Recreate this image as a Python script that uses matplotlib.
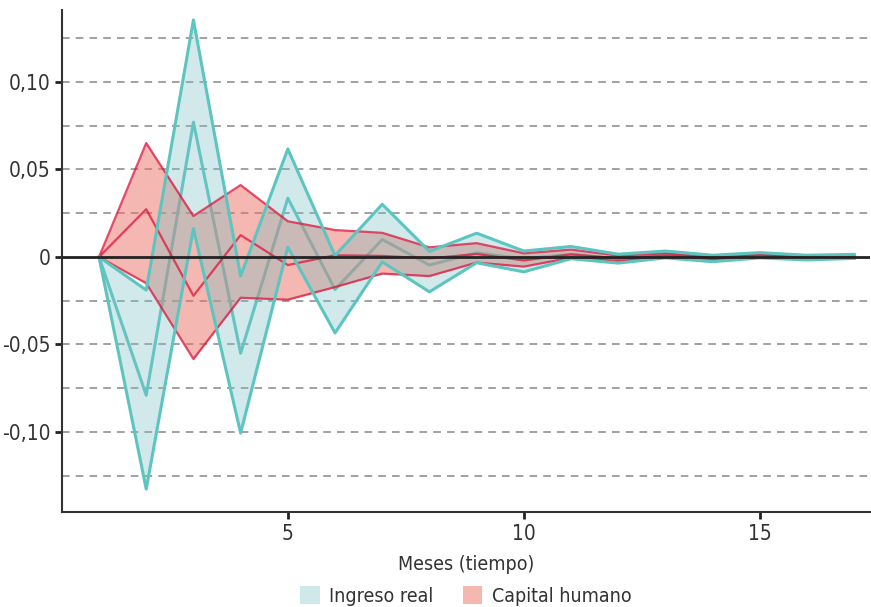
import numpy as np
import matplotlib
matplotlib.use("Agg")
import matplotlib.pyplot as plt
from matplotlib.patches import Patch

plt.rcParams['font.family'] = ['DejaVu Sans']
plt.rcParams['font.stretch'] = 'condensed'

# meses del horizonte de respuesta
meses = list(range(1, 18))

# respuesta del ingreso real (centro, banda superior, banda inferior)
ingreso_centro = [0, -0.079, 0.077, -0.055, 0.0336, -0.0186, 0.010, -0.0046, 0.0024,
                  -0.001, 0.0015, -0.001, 0.0015, -0.001, 0.001, -0.0004, 0.0003]
ingreso_sup = [0, -0.0189, 0.1354, -0.0109, 0.0617, 0.0008, 0.0301, 0.0032, 0.0136,
               0.0034, 0.006, 0.0016, 0.0034, 0.001, 0.0025, 0.001, 0.0015]
ingreso_inf = [0, -0.1326, 0.0162, -0.1006, 0.0056, -0.0434, -0.0028, -0.0199, -0.0033,
               -0.0085, -0.001, -0.0035, -0.0005, -0.0027, -0.0005, -0.0017, -0.0008]

# respuesta del capital humano
capital_centro = [0, 0.0273, -0.0222, 0.0125, -0.0046, 0.001, 0.0006, -0.0008, 0.0017,
                  -0.002, 0.0015, -0.0008, 0.0008, -0.0007, 0.0006, -0.0003, 0.0003]
capital_sup = [0, 0.0651, 0.0234, 0.0411, 0.0204, 0.0154, 0.0138, 0.0055, 0.0079,
               0.0021, 0.0042, 0.0008, 0.0021, 0.0, 0.0015, 0.0005, 0.001]
capital_inf = [0, -0.015, -0.0583, -0.0233, -0.0244, -0.0172, -0.0095, -0.0109, -0.0032,
               -0.0055, -0.0004, -0.0023, 0.0, -0.0015, 0.0, -0.001, -0.0003]

yticks = [-0.10, -0.05, 0, 0.05, 0.10]
ytick_labels = ["-0,10", "-0,05", "0", "0,05", "0,10"]
xticks = [5, 10, 15]

teal_line = "#5cc5c0"
teal_fill = "#7cc2c4"
red_line = "#dc143c"
red_fill = "#eb7064"

fig = plt.figure(figsize=(8.71, 6.07), dpi=100)
ax = fig.add_axes([0.0712, 0.1565, 0.928, 0.827])

# grid dashed every 0.025
for g in np.arange(-0.125, 0.13, 0.025):
    if abs(g) < 1e-9:
        continue
    ax.axhline(g, color="#888888", lw=1.1, ls=(0, (5, 4)), zorder=0)

# capas: centro teal, banda roja, banda teal, lineas rojas, bordes teal
ax.plot(meses, ingreso_centro, color=teal_line, lw=2.2, zorder=1)
ax.fill_between(meses, capital_inf, capital_sup, color=red_fill, alpha=0.5, lw=0, zorder=2)
ax.fill_between(meses, ingreso_inf, ingreso_sup, color=teal_fill, alpha=0.35, lw=0, zorder=3)
ax.plot(meses, capital_sup, color=red_line, lw=1.6, alpha=0.75, zorder=4)
ax.plot(meses, capital_centro, color=red_line, lw=1.6, alpha=0.75, zorder=4)
ax.plot(meses, capital_inf, color=red_line, lw=1.6, alpha=0.75, zorder=4)
ax.plot(meses, ingreso_sup, color=teal_line, lw=2.2, zorder=5)
ax.plot(meses, ingreso_inf, color=teal_line, lw=2.2, zorder=5)

ax.axhline(0, color="#222222", lw=2, zorder=6)

ax.set_xlim(0.216, 17.34)
ax.set_ylim(-0.1457, 0.1411)

ax.set_yticks(yticks)
ax.set_yticklabels(ytick_labels)
ax.set_xticks(xticks)
ax.tick_params(axis="both", direction="out", length=5, width=2, color="#222222",
               labelsize=15, labelcolor="#333333")

for s in ["top", "right"]:
    ax.spines[s].set_visible(False)
for s in ["left", "bottom"]:
    ax.spines[s].set_color("#333333")
    ax.spines[s].set_linewidth(1.5)

ax.set_xlabel("Meses (tiempo)", fontsize=14, color="#333333", labelpad=8)

handles = [Patch(facecolor="#cfe9ea", edgecolor="none", label="Ingreso real"),
           Patch(facecolor="#f5b8b0", edgecolor="none", label="Capital humano")]
fig.legend(handles=handles, loc="center", bbox_to_anchor=(0.535, 0.018), ncol=2,
           frameon=False, fontsize=14, handlelength=1.0, handleheight=1.0,
           handletextpad=0.5, columnspacing=1.5, labelcolor="#333333")

plt.savefig("out.png", dpi=100)
